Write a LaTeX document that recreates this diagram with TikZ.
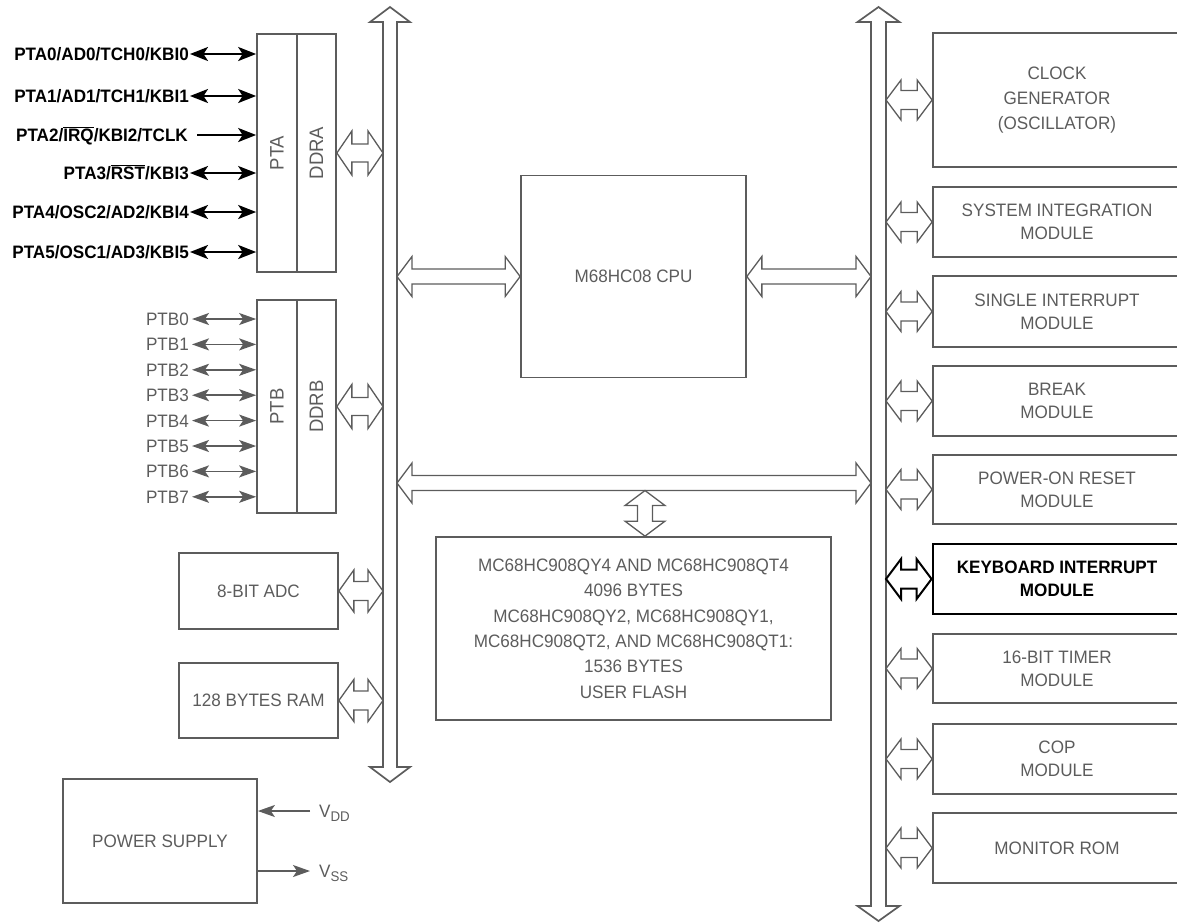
\documentclass[tikz,border=0pt]{standalone}
\usepackage{fontspec}
\setmainfont[FakeStretch=0.95]{Liberation Sans}
\usetikzlibrary{arrows.meta,calc}
\definecolor{mcugray}{RGB}{92,92,92}
\tikzset{
  blk/.style={draw=mcugray, line width=1.7pt, text=mcugray, inner sep=0pt,
    align=center, font=\fontsize{18}{23}\selectfont},
  kbiblk/.style={blk, draw=black, text=black, line width=2.8pt,
    font=\fontsize{18}{23}\selectfont\bfseries},
  rotlbl/.style={text=mcugray, inner sep=0pt, rotate=90,
    font=\fontsize{19.5}{19.5}\selectfont},
  pinA/.style={anchor=east, inner sep=0pt, text height=12.9pt, text depth=0pt,
    font=\fontsize{18}{20}\selectfont\bfseries},
  pinB/.style={pinA, text=mcugray, font=\fontsize{18}{20}\selectfont},
  wireA/.style={line width=2.4pt, >={Stealth[length=18pt,width=14pt,inset=4.5pt]}},
  wireB/.style={draw=mcugray, line width=1.6pt, >={Stealth[length=17pt,width=12pt,inset=4pt]}},
  bus/.style={draw=mcugray, line width=1.3pt, line join=miter},
  mainbus/.style={bus, line width=1.7pt}
}
\newcommand{\subsc}[1]{\raisebox{-4pt}{\fontsize{14}{14}\selectfont #1}}

\begin{document}
\begin{tikzpicture}[x=1pt,y=-1pt]
\useasboundingbox (0,0) rectangle (1177,922);
\clip (0,0) rectangle (1177,922);
%hollow arrows: from, to, half width of head, half width of shaft
\newcommand{\hd}{15pt}
\newcommand{\hbus}[5][]{\draw[bus,#1] let \p1=(#2), \p2=(#3) in
  (\x1,\y1) -- ({\x1+\hd},{\y1+#4}) -- ({\x1+\hd},{\y1+#5})
  -- ({\x2-\hd},{\y1+#5}) -- ({\x2-\hd},{\y1+#4}) -- (\x2,\y1)
  -- ({\x2-\hd},{\y1-#4}) -- ({\x2-\hd},{\y1-#5})
  -- ({\x1+\hd},{\y1-#5}) -- ({\x1+\hd},{\y1-#4}) -- cycle;}
\newcommand{\vbus}[5][]{\draw[bus,#1] let \p1=(#2), \p2=(#3) in
  (\x1,\y1) -- ({\x1+#4},{\y1-\hd}) -- ({\x1+#5},{\y1-\hd})
  -- ({\x1+#5},{\y2+\hd}) -- ({\x1+#4},{\y2+\hd}) -- (\x1,\y2)
  -- ({\x1-#4},{\y2+\hd}) -- ({\x1-#5},{\y2+\hd})
  -- ({\x1-#5},{\y1-\hd}) -- ({\x1-#4},{\y1-\hd}) -- cycle;}

%buses
\coordinate (lbtop) at (390,7);
\coordinate (lbbot) at (390,782);
\coordinate (rbtop) at (878.5,7);
\coordinate (rbbot) at (878.5,921);
\coordinate (lbL) at (383,0);
\coordinate (lbR) at (397,0);
\coordinate (rbL) at (871,0);
\coordinate (rbR) at (886,0);
\vbus[mainbus]{lbtop}{lbbot}{20pt}{7pt}
\vbus[mainbus]{rbtop}{rbbot}{21pt}{7.5pt}

%port A
\node[blk, minimum width=40, minimum height=238,
  label={[rotlbl]center:PTA}] (pta) at (277,153) {};
\node[blk, minimum width=39, minimum height=238,
  label={[rotlbl]center:DDRA}] (ddra) at (316.5,153) {};
\node[pinA] (pa0) at (189,54) {PTA0/AD0/TCH0/KBI0};
\node[pinA] (pa1) at (189,96) {PTA1/AD1/TCH1/KBI1};
\node[pinA] (pa2) at (188,135) {PTA2/\ensuremath{\overline{\mbox{IRQ}}}/KBI2/TCLK};
\node[pinA] (pa3) at (189,173) {PTA3/\ensuremath{\overline{\mbox{RST}}}/KBI3};
\node[pinA] (pa4) at (189,212) {PTA4/OSC2/AD2/KBI4};
\node[pinA] (pa5) at (189,252) {PTA5/OSC1/AD3/KBI5};
\foreach \i in {0,1,3,4,5}
  \draw[wireA, <->] ([xshift=1pt]pa\i.east) -- (pa\i.east -| pta.west);
\draw[wireA, ->] ([xshift=9pt]pa2.east) -- (pa2.east -| pta.west);
\hbus{ddra.east}{ddra.east -| lbL}{22pt}{9pt}

%port B
\node[blk, minimum width=40, minimum height=213,
  label={[rotlbl]center:PTB}] (ptb) at (277,406.5) {};
\node[blk, minimum width=39, minimum height=213,
  label={[rotlbl]center:DDRB}] (ddrb) at (316.5,406.5) {};
\foreach \i in {0,...,7}{
  \node[pinB] (pb\i) at (189,{319+25.4*\i}) {PTB\i};
  \draw[wireB, <->] ([xshift=3pt]pb\i.east) -- (pb\i.east -| ptb.west);
}
\hbus{ddrb.east}{ddrb.east -| lbL}{22pt}{9pt}

%adc, ram
\node[blk, minimum width=159, minimum height=76] (adc) at (258.5,591) {8-BIT ADC};
\node[blk, minimum width=159, minimum height=75] (ram) at (258.5,700.5) {128 BYTES RAM};
\hbus{adc.east}{adc.east -| lbL}{21pt}{9.5pt}
\hbus{ram.east}{ram.east -| lbL}{21pt}{9.5pt}

%power
\node[blk, minimum width=194, minimum height=124] (pwr) at (160,841) {POWER SUPPLY};
\node[pinB, anchor=west] (vdd) at (319,811) {V\subsc{DD}};
\node[pinB, anchor=west] (vss) at (319,871) {V\subsc{SS}};
\draw[wireB, ->] ([xshift=-9pt]vdd.west) -- (vdd.west -| pwr.east);
\draw[wireB, ->] (vss.west -| pwr.east) -- ([xshift=-9pt]vss.west);

%cpu and flash
\node[blk, minimum width=225, minimum height=202] (cpu) at (633.5,276.5) {M68HC08 CPU};
\node[blk, minimum width=395, minimum height=183, font=\fontsize{18}{25.4}\selectfont]
  (flash) at (633.5,628.5)
  {MC68HC908QY4 AND MC68HC908QT4\\4096 BYTES\\MC68HC908QY2, MC68HC908QY1,\\
   MC68HC908QT2, AND MC68HC908QT1:\\1536 BYTES\\USER FLASH};
\coordinate (mbus) at (645,483);
\coordinate (mbusS) at (645,490.5);
\hbus{lbR |- cpu.west}{cpu.west}{20pt}{7.5pt}
\hbus{cpu.east}{cpu.east -| rbL}{20pt}{7.5pt}
\hbus{lbR |- mbus}{rbL |- mbus}{20pt}{7.5pt}
\vbus{mbusS}{mbusS |- flash.north}{20pt}{7.5pt}

%modules
\node[blk, minimum width=248, minimum height=134, font=\fontsize{18}{25}\selectfont]
  (clk) at (1057,100) {CLOCK\\GENERATOR\\(OSCILLATOR)};
\node[blk, minimum width=248, minimum height=70] (sim) at (1057,222) {SYSTEM INTEGRATION\\MODULE};
\node[blk, minimum width=248, minimum height=71] (sint) at (1057,311.5) {SINGLE INTERRUPT\\MODULE};
\node[blk, minimum width=248, minimum height=70] (brk) at (1057,401) {BREAK\\MODULE};
\node[blk, minimum width=248, minimum height=69] (por) at (1057,489.5) {POWER-ON RESET\\MODULE};
\node[kbiblk, minimum width=248, minimum height=70] (kbi) at (1057,579) {KEYBOARD INTERRUPT\\MODULE};
\node[blk, minimum width=248, minimum height=69] (tim) at (1057,668.5) {16-BIT TIMER\\MODULE};
\node[blk, minimum width=248, minimum height=70] (cop) at (1057,759) {COP\\MODULE};
\node[blk, minimum width=248, minimum height=70] (mon) at (1057,848) {MONITOR ROM};
\foreach \m in {clk,sim,sint,brk,por,tim,cop,mon}{
  \hbus{rbR |- \m.west}{\m.west}{20pt}{9.5pt}
}
\hbus[draw=black, line width=2pt]{rbR |- kbi.west}{kbi.west}{20pt}{9.5pt}
\end{tikzpicture}
\end{document}
